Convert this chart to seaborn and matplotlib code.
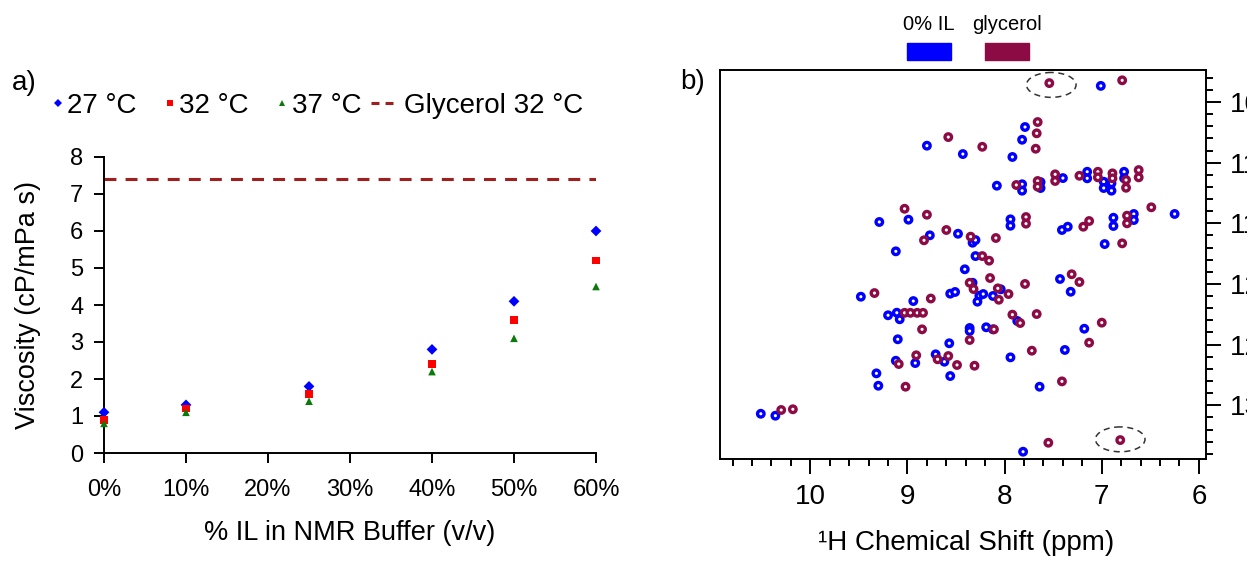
import numpy as np
import pandas as pd
import matplotlib
matplotlib.use("Agg")
import matplotlib.pyplot as plt
from matplotlib.lines import Line2D
from matplotlib.patches import Ellipse, Rectangle
from matplotlib.legend_handler import HandlerLine2D
from matplotlib.ticker import MultipleLocator, FormatStrFormatter
import seaborn as sns

# ---------------- panel a: viscosity vs. ionic-liquid content ----------------
il_percent = [0, 10, 25, 40, 50, 60]
visc_27 = [1.1, 1.3, 1.8, 2.8, 4.1, 6.0]
visc_32 = [0.9, 1.2, 1.6, 2.4, 3.6, 5.2]
visc_37 = [0.8, 1.1, 1.4, 2.2, 3.1, 4.5]
glycerol_32 = 7.4
temps = ["27 °C", "32 °C", "37 °C"]
glycerol_label = "Glycerol 32 °C"
pct_ticks = [0, 10, 20, 30, 40, 50, 60]
pct_labels = ["0%", "10%", "20%", "30%", "40%", "50%", "60%"]
visc_ticks = [0, 1, 2, 3, 4, 5, 6, 7, 8]

# ---------------- panel b: 1H-15N HSQC peak positions ----------------
samples = ["0% IL", "glycerol"]
il0_h = [7.01, 7.79, 7.82, 8.43, 7.92, 8.80, 8.08, 7.82, 7.82, 7.63,
         7.63, 7.40, 7.15, 7.15, 6.98, 6.98, 6.90, 6.90, 6.77, 6.77,
         6.25, 7.94, 7.94, 7.41, 7.35, 6.88, 6.88, 6.67, 6.67, 6.97,
         9.29, 8.99, 8.77, 8.48, 8.33, 8.30, 9.12, 8.30, 8.41, 7.43,
         8.33, 8.04, 8.26, 8.22, 8.12, 7.32, 9.48, 8.94, 8.56, 8.51,
         8.28, 9.20, 9.11, 9.08, 8.36, 8.36, 8.19, 8.12, 9.10, 8.57,
         9.12, 8.92, 8.71, 8.62, 9.32, 9.30, 8.56, 10.51, 10.36, 7.87,
         7.18, 7.38, 7.94, 7.64, 7.81]
il0_n = [103.67, 107.06, 108.11, 109.29, 109.53, 108.60, 111.90, 111.78, 112.31, 111.60,
         112.09, 111.27, 110.75, 111.29, 111.57, 112.09, 111.70, 112.31, 110.75, 111.29,
         114.23, 114.67, 115.20, 115.55, 115.28, 114.54, 115.22, 114.23, 114.73, 116.71,
         114.89, 114.70, 115.99, 115.86, 116.60, 116.38, 117.31, 117.70, 118.79, 119.59,
         119.90, 120.44, 120.97, 120.83, 120.99, 120.64, 121.05, 121.41, 120.80, 120.66,
         121.46, 122.58, 122.37, 122.91, 123.63, 123.88, 123.57, 123.74, 124.56, 124.89,
         126.33, 126.52, 125.80, 126.41, 127.37, 128.39, 127.59, 130.70, 130.86, 123.05,
         123.69, 125.44, 126.05, 128.47, 133.83]
gly_h = [7.54, 6.79, 7.66, 7.67, 8.23, 7.68, 8.58, 7.88, 7.66, 7.66,
         7.48, 7.48, 7.23, 7.04, 7.04, 6.89, 6.89, 6.75, 6.75, 6.62,
         6.62, 6.49, 7.78, 7.78, 7.19, 7.13, 6.74, 6.74, 6.79, 9.03,
         8.80, 8.60, 8.83, 8.35, 8.09, 8.23, 8.16, 7.31, 7.23, 8.15,
         8.36, 8.32, 7.79, 8.07, 7.96, 9.34, 8.76, 8.06, 9.03, 8.97,
         8.90, 8.84, 8.85, 8.36, 9.09, 8.91, 8.69, 8.58, 8.49, 8.31,
         9.02, 10.30, 10.18, 7.92, 7.67, 7.84, 8.11, 7.00, 7.13, 7.72,
         7.41, 7.55, 6.81]
gly_n = [103.44, 103.21, 106.65, 107.58, 108.69, 108.85, 107.89, 111.84, 111.51, 111.98,
         110.96, 111.51, 111.08, 110.75, 111.21, 110.88, 111.29, 111.43, 112.07, 110.61,
         111.21, 113.68, 114.48, 115.03, 115.28, 114.81, 114.37, 115.00, 116.65, 113.80,
         114.29, 115.55, 116.40, 116.10, 116.21, 117.70, 118.08, 119.20, 119.84, 119.51,
         119.90, 120.42, 120.00, 120.36, 120.83, 120.75, 121.20, 121.30, 122.38, 122.38,
         122.38, 122.38, 123.74, 124.62, 126.60, 125.88, 126.21, 125.94, 126.68, 126.74,
         128.47, 130.39, 130.33, 122.53, 122.48, 123.22, 123.74, 123.19, 124.84, 125.50,
         128.03, 133.09, 132.87]
# peaks highlighted with a dashed ring
circled_h = [7.52, 6.81]
circled_n = [103.59, 132.81]
h_ticks = [6, 7, 8, 9, 10]
n_ticks = [105, 110, 115, 120, 125, 130]

# ---------------- styling ----------------
sns.set_style("ticks")
plt.rcParams["font.family"] = ["Liberation Sans", "DejaVu Sans"]
plt.rcParams["axes.linewidth"] = 1.4
for key in ["text.color", "axes.labelcolor", "xtick.color", "ytick.color",
            "xtick.labelcolor", "ytick.labelcolor", "axes.edgecolor"]:
    plt.rcParams[key] = "black"

temp_colors = ["#0000FF", "#FF0000", "#0A7A0A"]
temp_markers = ["D", "s", "^"]
glycerol_color = "#A01E1E"
sample_colors = ["#0000FF", "#8C0B45"]

W, H = 1247, 561
fig = plt.figure(figsize=(W / 100, H / 100), dpi=100)


def fx(px):
    return px / W


def fy(py):
    return 1 - py / H


# ================= panel a =================
ax1 = fig.add_axes([fx(104), fy(453), fx(596) - fx(104), fy(157) - fy(453)])

visc = pd.DataFrame({
    "il": il_percent * 3,
    "visc": visc_27 + visc_32 + visc_37,
    "temp": np.repeat(temps, len(il_percent)),
})

ax1.axhline(glycerol_32, color=glycerol_color, lw=2.2, dashes=(3.9, 3.0), zorder=2)
sns.scatterplot(data=visc, x="il", y="visc", hue="temp", style="temp",
                palette=dict(zip(temps, temp_colors)),
                markers=dict(zip(temps, temp_markers)),
                s=30, linewidth=0, ax=ax1, legend=False, zorder=3, clip_on=False)

ax1.set_xlim(0, 60)
ax1.set_ylim(0, 8)
ax1.set_xticks(pct_ticks)
ax1.set_xticklabels(pct_labels)
ax1.set_yticks(visc_ticks)
sns.despine(ax=ax1)
ax1.tick_params(axis="both", direction="out", length=7, width=1.4,
                labelsize=17, color="black", labelcolor="black")
ax1.tick_params(axis="x", pad=12)
ax1.tick_params(axis="y", pad=8)
ax1.set_xlabel("% IL in NMR Buffer (v/v)", fontsize=19.5, color="black")
ax1.set_ylabel("Viscosity (cP/mPa s)", fontsize=19.5, color="black")
ax1.xaxis.set_label_coords(0.5, -0.225)
ax1.yaxis.set_label_coords(-0.128, 0.5)


class MarkerAtEnd(HandlerLine2D):
    """Legend handler that sits the marker at the right end of the handle box."""

    def create_artists(self, legend, orig_handle, xdescent, ydescent,
                       width, height, fontsize, trans):
        arts = super().create_artists(legend, orig_handle, xdescent, ydescent,
                                      width, height, fontsize, trans)
        for a in arts:
            xd = np.asarray(a.get_xdata(), float)
            a.set_xdata(np.full_like(xd, width - xdescent - 1))
        return arts


marker_handles = [Line2D([], [], linestyle="None", marker=m, color=c,
                         markersize=ms, markeredgewidth=0)
                  for m, c, ms in zip(temp_markers, temp_colors, [4.0, 4.6, 5.0])]
dash_handle = Line2D([], [], color=glycerol_color, lw=2.2, dashes=(2.6, 2.0))
fig.legend(marker_handles + [dash_handle], temps + [glycerol_label],
           loc="center left", bbox_to_anchor=(fx(34), fy(106)), ncol=4,
           frameon=False, fontsize=20, handlelength=0.9, handletextpad=0.29,
           columnspacing=0.35, borderpad=0, borderaxespad=0, labelcolor="black",
           handler_map={h: MarkerAtEnd() for h in marker_handles})

fig.text(fx(12), fy(83), "a)", fontsize=20, va="center", ha="left", color="black")

# ================= panel b =================
ax2 = fig.add_axes([fx(720), fy(459), fx(1206) - fx(720), fy(70) - fy(459)])

peaks = pd.DataFrame({
    "h": il0_h + gly_h,
    "n": il0_n + gly_n,
    "sample": [samples[0]] * len(il0_h) + [samples[1]] * len(gly_h),
})
sns.scatterplot(data=peaks, x="h", y="n", hue="sample",
                palette=dict(zip(samples, sample_colors)),
                marker="o", s=22, ax=ax2, legend=False, zorder=3)
# draw each peak as a contour-like ring: coloured outline, white centre
rings = ax2.collections[-1]
ring_colors = rings.get_facecolors()
rings.set_edgecolors(ring_colors)
rings.set_facecolors("white")
rings.set_linewidths(2.4)

for h, n in zip(circled_h, circled_n):
    ax2.add_patch(Ellipse((h, n), width=0.51, height=2.05, fill=False,
                          edgecolor="#333333", lw=1.1, linestyle=(0, (4, 3)),
                          zorder=4))

ax2.set_xlim(10.93, 5.927)
ax2.set_ylim(134.43, 102.36)
ax2.set_xticks(h_ticks)
ax2.xaxis.set_major_formatter(FormatStrFormatter("%d"))
ax2.xaxis.set_minor_locator(MultipleLocator(0.2))
ax2.set_yticks(n_ticks)
ax2.yaxis.set_minor_locator(MultipleLocator(1))
ax2.yaxis.tick_right()
for side in ["top", "right", "left", "bottom"]:
    ax2.spines[side].set_visible(True)
    ax2.spines[side].set_linewidth(1.4)
    ax2.spines[side].set_color("black")
ax2.tick_params(axis="x", which="major", direction="out", length=11, width=1.4,
                labelsize=20, pad=7, top=False, color="black", labelcolor="black")
ax2.tick_params(axis="x", which="minor", direction="out", length=5, width=1.4,
                top=False, color="black")
ax2.tick_params(axis="y", which="major", direction="out", length=11, width=1.4,
                labelsize=20, pad=6, left=False, right=True, color="black",
                labelcolor="black")
ax2.tick_params(axis="y", which="minor", direction="out", length=5, width=1.4,
                left=False, right=True, color="black")
ax2.set_xlabel("¹H Chemical Shift (ppm)", fontsize=20, color="black")
ax2.xaxis.set_label_coords(0.507, -0.182)
ax2.set_ylabel("")

fig.text(fx(680), fy(82), "b)", fontsize=20, va="center", ha="left", color="black")

# sample key above the spectrum
for label, color, x0 in zip(samples, sample_colors, [907, 985]):
    fig.add_artist(Rectangle((fx(x0), fy(60)), fx(44), fy(43) - fy(60),
                             transform=fig.transFigure, color=color))
    fig.text(fx(x0 + 22), fy(24), label, fontsize=14.5, ha="center", va="center",
             color="black")

fig.savefig("out.png", dpi=100)
